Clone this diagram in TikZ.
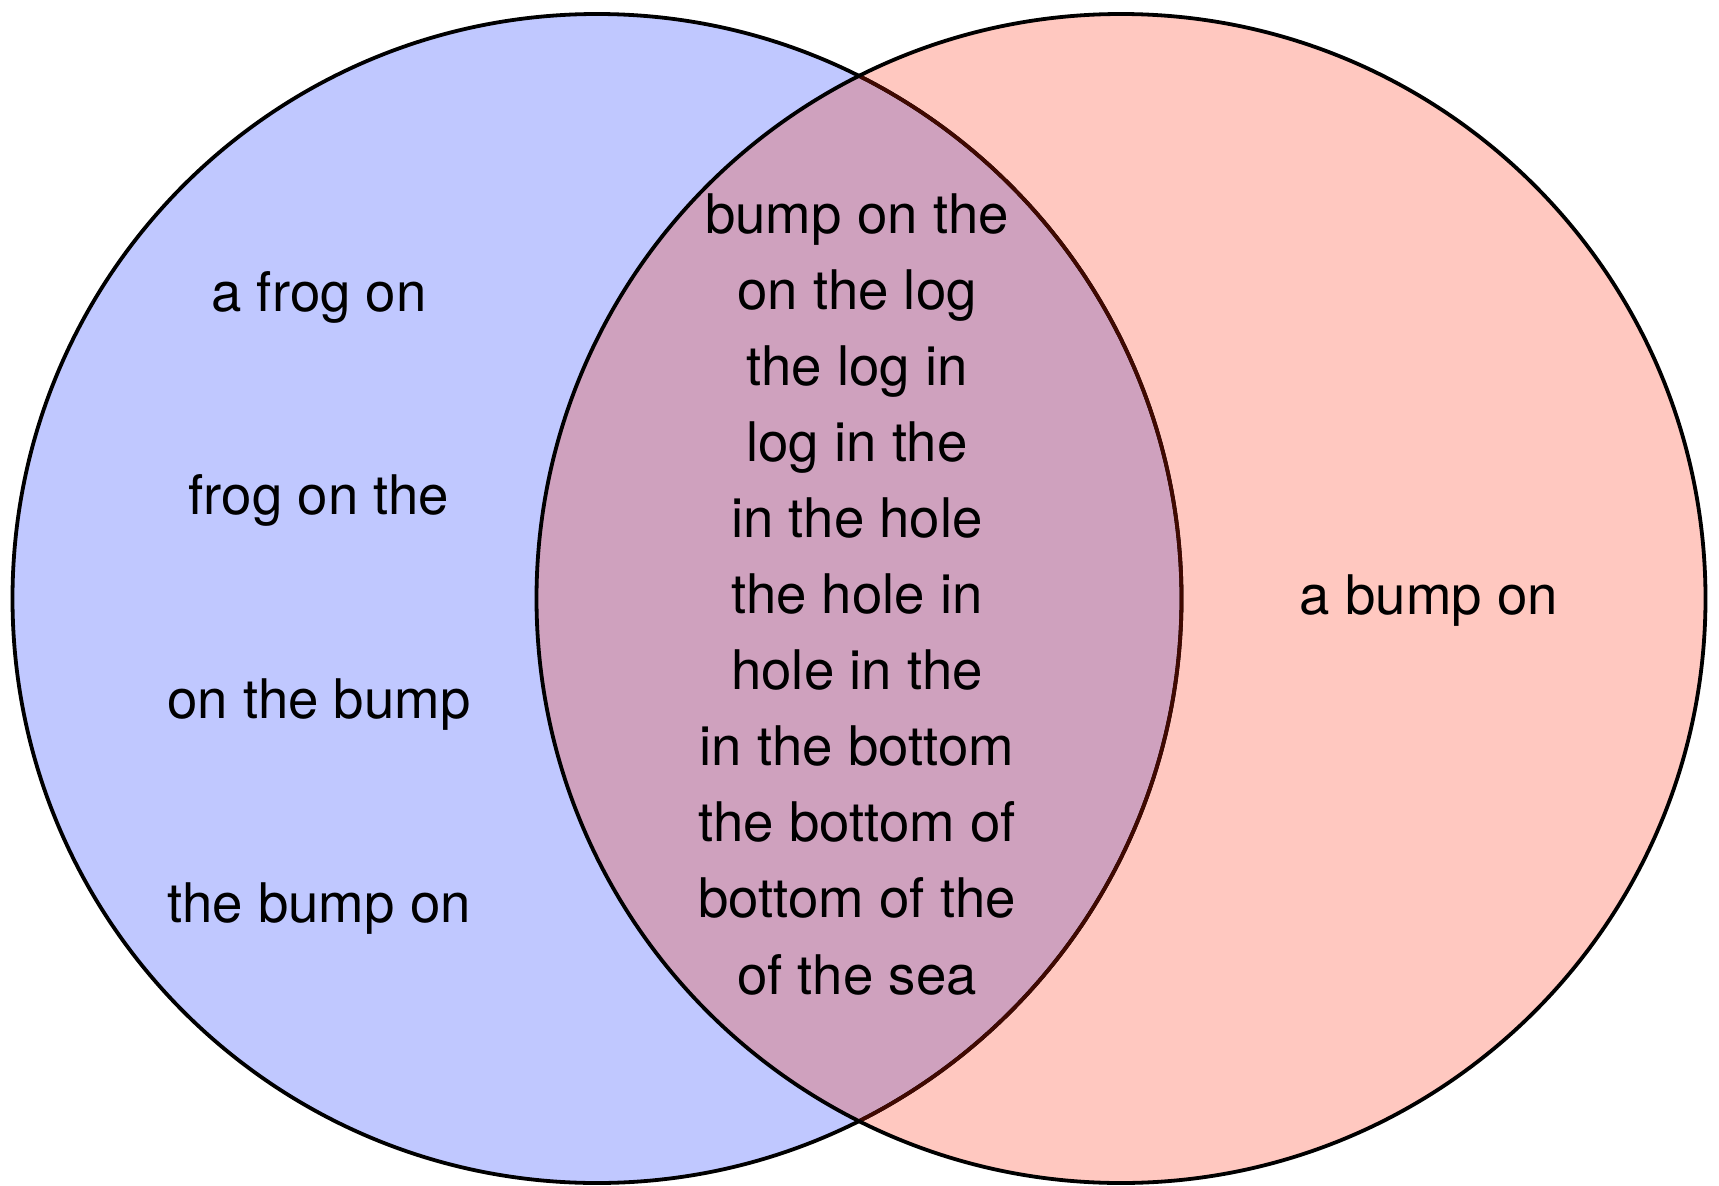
\documentclass[tikz,border=0pt]{standalone}
\usepackage{fontspec}
\setmainfont{TeX Gyre Heros}
\definecolor{vblue}{RGB}{192,200,255}
\definecolor{vred}{RGB}{255,200,192}
\definecolor{vmix}{RGB}{207,161,190}
\definecolor{vedge}{RGB}{64,9,1}
\begin{document}
\begin{tikzpicture}[x=1pt,y=-1pt,
  lbl/.style={anchor=base, inner sep=0pt, font=\fontsize{54.6}{64}\selectfont},
  ring/.style={line width=3.8pt}]
\useasboundingbox (0,0) rectangle (1719,1186);
\def\R{584.5}
\coordinate (A) at (597,598.5);
\coordinate (B) at (1121,598.5);
\fill[vblue] (A) circle[radius=\R];
\fill[vred] (B) circle[radius=\R];
\begin{scope}
  \clip (A) circle[radius=\R];
  \fill[vmix] (B) circle[radius=\R];
\end{scope}
\draw[ring, black] (A) circle[radius=\R];
\begin{scope}
  \clip (B) circle[radius=\R];
  \draw[ring, vedge] (A) circle[radius=\R];
\end{scope}
\draw[ring, black] (B) circle[radius=\R];
% left set
\node[lbl] (l1) at (319,311) {a frog on};
\node[lbl] (l2) at (319,514.6) {frog on the};
\node[lbl] (l3) at (319,718) {on the bump};
\node[lbl] (l4) at (319,922) {the bump on};
% intersection
\node[lbl] (c1) at (857,233) {bump on the};
\node[lbl] (c2) at (857,309.1) {on the log};
\node[lbl] (c3) at (857,385.2) {the log in};
\node[lbl] (c4) at (857,461.3) {log in the};
\node[lbl] (c5) at (857,537.4) {in the hole};
\node[lbl] (c6) at (857,613.5) {the hole in};
\node[lbl] (c7) at (857,689.6) {hole in the};
\node[lbl] (c8) at (857,765.7) {in the bottom};
\node[lbl] (c9) at (857,841.8) {the bottom of};
\node[lbl] (c10) at (857,917.9) {bottom of the};
\node[lbl] (c11) at (857,994) {of the sea};
% right set
\node[lbl] (r1) at (1429,614) {a bump on};
\end{tikzpicture}
\end{document}
